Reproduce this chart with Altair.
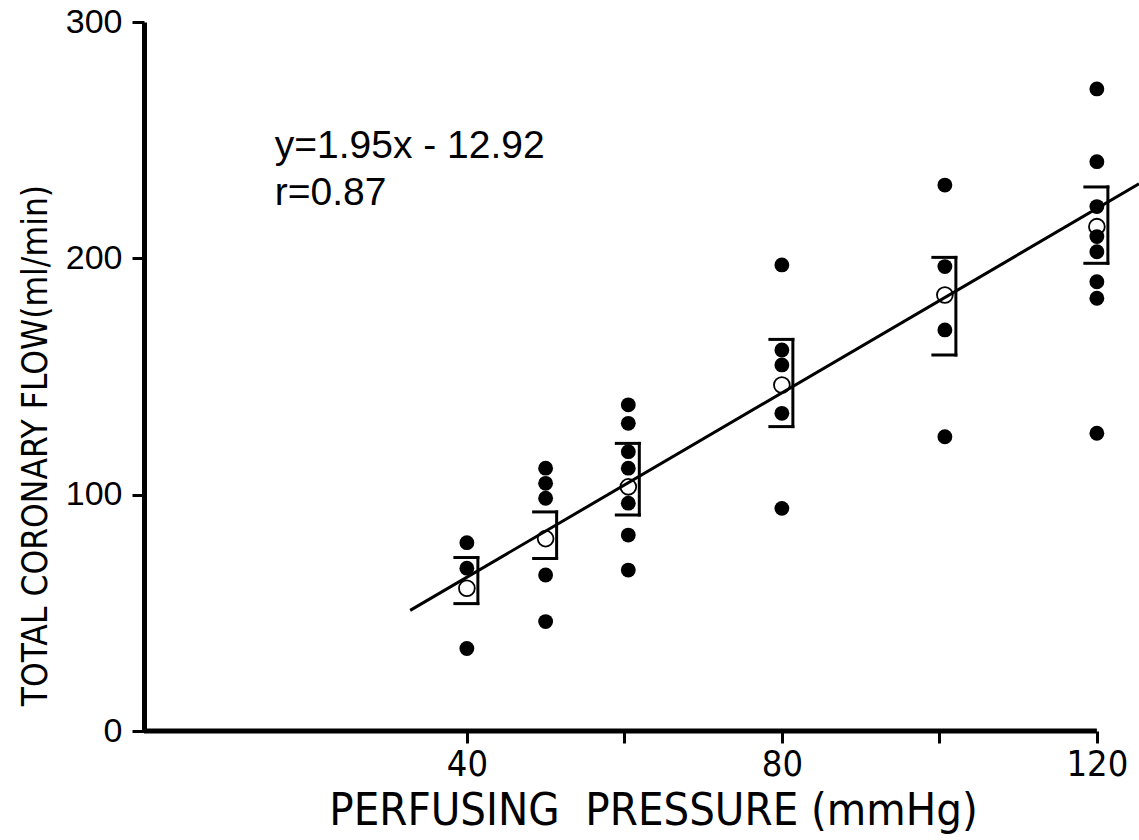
import altair as alt
import pandas as pd

# ---- data ----
group_pressure = [40, 50, 60.5, 80, 100.7, 120]
flow_values = [
    [79.7, 68.9, 34.9],
    [111.2, 104.8, 98.5, 66.0, 46.3],
    [138.0, 130.2, 118.2, 111.2, 96.4, 82.9, 68.1],
    [197.2, 161.2, 154.9, 134.4, 94.2],
    [231.0, 196.5, 169.7, 124.5],
    [271.7, 240.9, 221.9, 209.2, 202.8, 190.1, 183.1, 126.0],
]
mean_flow = [60.4, 81.4, 103.3, 146.4, 184.5, 213.4]
bracket_upper = [73.4, 92.7, 121.7, 165.7, 200.4, 230.2]
bracket_lower = [53.9, 73.0, 91.4, 128.8, 159.1, 197.9]

slope = 1.95
intercept = -12.92
fit_x = [32.8, 125.35]

x_ticks = [40, 60, 80, 100, 120]
y_ticks = [0, 100, 200, 300]
x_domain = [-1, 125.35]
y_domain = [0, 300]

annot_lines = ["y=1.95x - 12.92", "r=0.87"]
annot_x = [15.6, 15.6]
annot_y = [242.5, 222.5]

COND = "'DejaVu Sans Condensed', 'Liberation Sans', sans-serif"
SANS = "'Liberation Sans', Arial, sans-serif"

# ---- tables ----
pts = pd.DataFrame(
    [(p, v) for p, vals in zip(group_pressure, flow_values) for v in vals],
    columns=["pressure", "flow"],
)
means = pd.DataFrame({"pressure": group_pressure, "flow": mean_flow,
                      "upper": bracket_upper, "lower": bracket_lower})
ends = pd.DataFrame({"pressure": group_pressure * 2,
                     "flow": bracket_upper + bracket_lower})
fit = pd.DataFrame({"pressure": fit_x,
                    "flow": [slope * x + intercept for x in fit_x]})
annot = pd.DataFrame({"x": annot_x, "y": annot_y, "t": annot_lines})
xaxis_line = pd.DataFrame({"x": [x_domain[0]], "x2": [120], "y": [0]})

W, H = 995, 709

xs = alt.Scale(domain=x_domain, nice=False, zero=False)
ys = alt.Scale(domain=y_domain, nice=False)

x_axis = alt.Axis(
    values=x_ticks, labelExpr="datum.value % 40 == 0 ? datum.label : ''",
    domain=False, grid=False, ticks=True, tickSize=12, tickWidth=3,
    tickColor="black", labelFont=COND, labelFontSize=36,
    labelColor="black", labelPadding=4,
    title="PERFUSING\u00a0\u00a0PRESSURE (mmHg)", titleFont=COND,
    titleFontSize=45, titleFontWeight="normal", titleColor="black",
    titleX=509, titleY=79, titleAlign="center", titleBaseline="middle",
)
y_axis = alt.Axis(
    values=y_ticks, domain=True, domainWidth=5, domainColor="black",
    grid=False, tickSize=12, tickWidth=3, tickColor="black",
    labelFont=SANS, labelFontSize=34, labelColor="black",
    labelPadding=10,
    title="TOTAL CORONARY FLOW(ml/min)", titleFont=COND,
    titleFontSize=35, titleFontWeight="normal", titleColor="black",
    titleX=-109, titleY=423, titleAngle=-90, titleAlign="center",
    titleBaseline="middle",
)

base_x = alt.X("pressure:Q", scale=xs, axis=x_axis)
base_y = alt.Y("flow:Q", scale=ys, axis=y_axis)

line = alt.Chart(fit).mark_line(color="black", strokeWidth=3, clip=True).encode(
    x=base_x, y=base_y)

axis_rule = alt.Chart(xaxis_line).mark_rule(color="black", strokeWidth=5).encode(
    x=alt.X("x:Q", scale=xs), x2="x2:Q", y=alt.Y("y:Q", scale=ys))

bracket_h = alt.Chart(ends).mark_rule(
    color="black", strokeWidth=3, xOffset=-12, x2Offset=11, strokeCap="square"
).encode(x=alt.X("pressure:Q", scale=xs), x2="pressure:Q",
         y=alt.Y("flow:Q", scale=ys))

bracket_v = alt.Chart(means).mark_rule(
    color="black", strokeWidth=3, xOffset=11, strokeCap="square"
).encode(x=alt.X("pressure:Q", scale=xs), y=alt.Y("lower:Q", scale=ys),
         y2="upper:Q")

dots = alt.Chart(pts).mark_circle(color="black", size=220, opacity=1).encode(
    x=alt.X("pressure:Q", scale=xs), y=alt.Y("flow:Q", scale=ys))

opens = alt.Chart(means).mark_point(
    shape="circle", filled=False, color="black", size=250, strokeWidth=1.8,
    opacity=1
).encode(x=alt.X("pressure:Q", scale=xs), y=alt.Y("flow:Q", scale=ys))

texts = alt.Chart(annot).mark_text(
    align="left", baseline="alphabetic", font=SANS, fontSize=39,
    color="black"
).encode(x=alt.X("x:Q", scale=xs), y=alt.Y("y:Q", scale=ys), text="t:N")

chart = alt.layer(line, axis_rule, bracket_h, bracket_v, dots, opens, texts).properties(
    width=W, height=H,
    autosize=alt.AutoSizeParams(type="none"),
    padding={"left": 144, "top": 22, "right": 0, "bottom": 109},
    background="white",
).configure_view(stroke=None)

chart.save("out.html", embed_options={"renderer": "svg", "actions": False})
